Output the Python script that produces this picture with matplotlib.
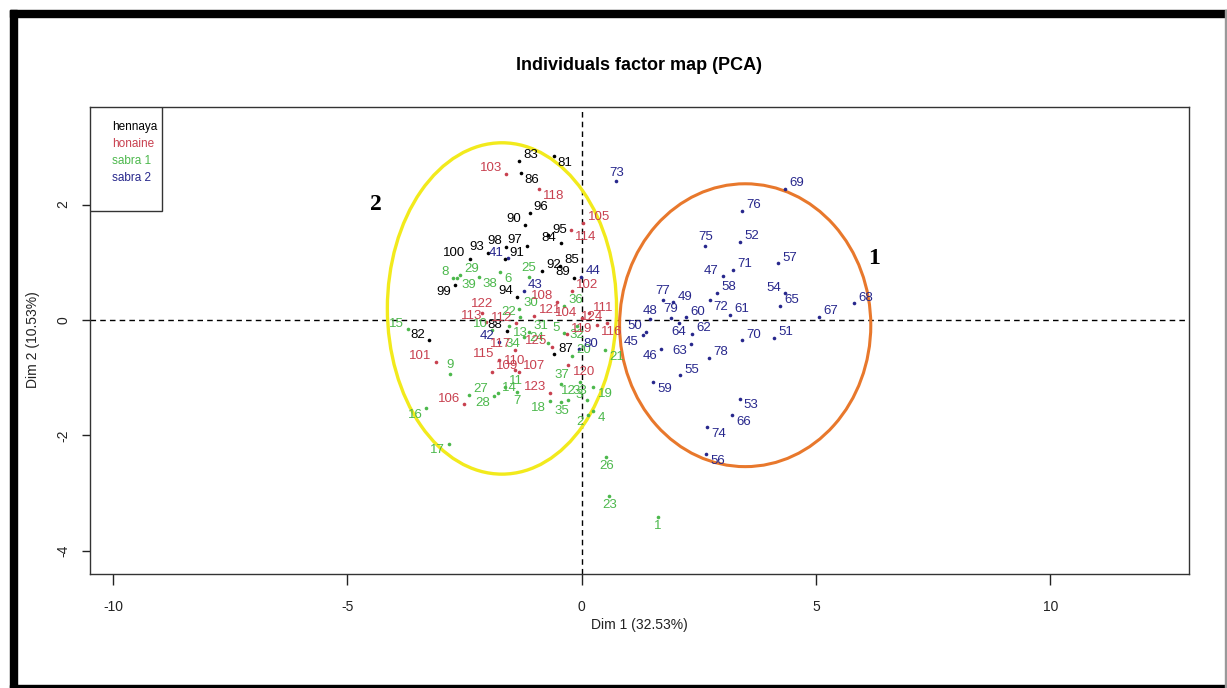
import matplotlib
matplotlib.use("Agg")
import matplotlib.pyplot as plt
from matplotlib.patches import Ellipse, Rectangle

plt.rcParams["font.family"] = ["Liberation Sans", "DejaVu Sans"]
plt.rcParams["axes.unicode_minus"] = False

# ── data: individuals on Dim 1 / Dim 2 ───────────────────────────────────────
ids = list(range(1, 40)) + list(range(41, 126))

dim1 = [1.62, 0.14, 0.11, 0.25, -0.37, -1.74, -1.38, -2.74, -2.81, -1.91,
        -1.63, -0.28, -1.55, -1.79, -3.71, -3.31, -2.82, -0.68, 0.25, -0.21,
        0.50, -1.32, 0.59, -0.71, -1.13, 0.53, -2.41, -1.87, -2.60, -1.34,
        -1.12, -0.10, -0.04, -1.23, -0.43, -0.37, -0.43, -2.20, -2.66,
        # 41-80
        -1.57, -1.77, -1.23, -0.01, 1.31, 1.70, 3.01, 1.45, 1.96, 1.38,
        4.10, 3.38, 3.37, 4.34, 2.10, 2.66, 4.20, 2.89, 1.53, 2.23,
        3.17, 2.36, 2.34, 2.07, 4.24, 3.21, 5.07, 5.81, 4.35, 3.43,
        3.23, 2.73, 0.74, 2.67, 2.64, 3.43, 1.74, 2.72, 1.91, -0.05,
        # 81-100
        -0.60, -3.26, -1.33, -0.45, -0.46, -1.30, -0.59, -1.60, -0.16, -1.21,
        -1.64, -0.84, -1.99, -1.38, -0.71, -1.11, -1.17, -1.61, -2.70, -2.39,
        # 101-125
        -3.11, -0.21, -1.61, 0.00, 0.04, -2.51, -1.34, -0.52, -1.91, -1.43,
        0.16, -1.40, -2.04, -0.23, -1.77, 0.32, -1.42, -0.92, -0.32, -0.28,
        -1.01, -2.13, -0.67, 0.55, -0.64]

dim2 = [-3.41, -1.65, -1.39, -1.57, -0.23, 0.83, -1.25, 0.73, -0.93, -0.17,
        -1.16, -1.39, -0.10, -1.27, -0.16, -1.53, -2.14, -1.40, -1.16, -0.62,
        -0.52, 0.05, -3.05, -0.40, 0.75, -2.38, -1.30, -1.32, 0.78, 0.19,
        -0.20, -0.10, -1.07, -0.29, -1.42, 0.25, -1.10, 0.74, 0.72,
        # 41-80
        1.07, -0.38, 0.51, 0.75, -0.26, -0.50, 0.76, 0.01, 0.31, -0.20,
        -0.31, 1.36, -1.36, 0.46, -0.96, -2.32, 0.98, 0.47, -1.08, 0.05,
        0.09, -0.24, -0.42, -0.05, 0.25, -1.65, 0.06, 0.29, 2.27, -0.35,
        0.87, 0.35, 2.40, -1.85, 1.29, 1.89, 0.35, -0.65, 0.03, -0.51,
        # 81-100
        2.84, -0.35, 2.76, 1.33, 0.94, 2.54, -0.59, -0.19, 0.73, 1.65,
        1.06, 0.85, 1.16, 0.40, 1.47, 1.86, 1.29, 1.27, 0.61, 1.06,
        # 101-125
        -0.72, 0.51, 2.53, 0.03, 1.68, -1.46, -0.90, 0.32, -0.90, -0.87,
        0.12, -0.06, -0.03, 1.56, -0.69, -0.09, -0.52, 2.27, -0.25, -0.78,
        0.07, 0.12, -1.26, -0.05, -0.46]

# where each label sits relative to its point
label_side = ["b", "ld", "l", "rd", "l", "rd", "b", "l", "a", "l",
              "r", "a", "rd", "r", "l", "ld", "ld", "ld", "rd", "r",
              "rd", "l", "b", "l", "a", "b", "r", "ld", "r", "r",
              "r", "b", "b", "ld", "b", "r", "a", "rd", "rd",
              "l", "l", "r", "r", "ld", "ld", "l", "a", "r", "l",
              "r", "r", "rd", "l", "r", "rd", "r", "r", "rd", "r",
              "r", "r", "ld", "b", "r", "rd", "r", "r", "r", "r",
              "r", "rd", "a", "rd", "a", "r", "a", "r", "a", "r",
              "rd", "l", "r", "l", "r", "rd", "r", "l", "l", "l",
              "r", "r", "l", "l", "r", "r", "l", "l", "ld", "l",
              "l", "r", "l", "l", "r", "l", "r", "l", "r", "a",
              "r", "l", "l", "rd", "l", "rd", "l", "rd", "r", "rd",
              "r", "a", "l", "l", "l"]

group_names = ["hennaya", "honaine", "sabra 1", "sabra 2"]
group_colors = ["black", "#c8404f", "#4cb84c", "#27278c"]


def group_of(i):
    if i <= 40:
        return 2
    if i <= 80:
        return 3
    if i <= 100:
        return 0
    return 1


SIDES = {
    "r":  ((3, 4), "left", "center"),
    "rd": ((3, -5), "left", "center"),
    "l":  ((-3, 4), "right", "center"),
    "ld": ((-3, -5), "right", "center"),
    "a":  ((0, 2), "center", "bottom"),
    "b":  ((0, -2), "center", "top"),
}

fig = plt.figure(figsize=(12.27, 6.88), dpi=100)
ax = fig.add_axes([90 / 1227, 114 / 688, 1099 / 1227, 467 / 688])

ax.axhline(0, color="black", lw=1, ls=(0, (4, 3)), zorder=1)
ax.axvline(0, color="black", lw=1, ls=(0, (4, 3)), zorder=1)

for i, x, y, side in zip(ids, dim1, dim2, label_side):
    col = group_colors[group_of(i)]
    ax.plot(x, y, "o", ms=2.6, color=col, mec="none", zorder=3)
    off, ha, va = SIDES[side]
    ax.annotate(str(i), (x, y), xytext=off, textcoords="offset points",
                ha=ha, va=va, fontsize=9.5, color=col, zorder=4)

# cluster ellipses
ax.add_patch(Ellipse((-1.70, 0.20), 4.89, 5.74, fill=False,
                     ec="#f2ea1c", lw=2.4, zorder=2))
ax.add_patch(Ellipse((3.49, -0.09), 5.36, 4.90, fill=False,
                     ec="#e8782c", lw=2.2, zorder=2))
ax.text(-4.40, 2.0, "2", family="Liberation Serif", fontweight="bold",
        fontsize=17, ha="center", va="center")
ax.text(6.23, 1.07, "1", family="Liberation Serif", fontweight="bold",
        fontsize=17, ha="center", va="center")

ax.set_xlim(-10.49, 12.96)
ax.set_ylim(-4.40, 3.69)
ax.set_xticks([-10, -5, 0, 5, 10])
ax.set_yticks([-4, -2, 0, 2])
ax.tick_params(axis="x", direction="out", length=8, width=1, pad=11,
               labelsize=10, colors="#222222")
ax.tick_params(axis="y", direction="out", length=6, width=1, pad=8,
               labelsize=10, colors="#222222")
for lbl in ax.get_yticklabels():
    lbl.set_rotation(90)
    lbl.set_va("center")
for sp in ax.spines.values():
    sp.set_color("#333333")
    sp.set_linewidth(1)

# legend box
ax.add_patch(Rectangle((0, 1 - 0.2227), 0.0655, 0.2227, transform=ax.transAxes,
                       fill=True, fc="white", ec="#333333", lw=1, zorder=5))
for k, (name, col) in enumerate(zip(group_names, group_colors)):
    ax.text(0.02, 1 - 0.043 - k * 0.036, name, transform=ax.transAxes,
            fontsize=8.5, color=col, va="center", ha="left", zorder=6)

fig.text(639.5 / 1227, 1 - 65 / 688, "Individuals factor map (PCA)",
         fontsize=13, fontweight="bold", ha="center", va="center")
fig.text(639.5 / 1227, 1 - 625 / 688, "Dim 1 (32.53%)",
         fontsize=10, ha="center", va="center", color="#222222")
fig.text(33 / 1227, 1 - 340 / 688, "Dim 2 (10.53%)", rotation=90,
         fontsize=10, ha="center", va="center", color="#222222")

# outer frame of the picture
fig.add_artist(Rectangle((10 / 1227, 1 - 17 / 688), 1217 / 1227, 7 / 688,
                         transform=fig.transFigure, color="black"))
fig.add_artist(Rectangle((10 / 1227, 0), 7 / 1227, 1 - 10 / 688,
                         transform=fig.transFigure, color="black"))
fig.add_artist(Rectangle((10 / 1227, 0), 1217 / 1227, 3 / 688,
                         transform=fig.transFigure, color="black"))
fig.add_artist(Rectangle((1225 / 1227, 0), 2 / 1227, 1 - 10 / 688,
                         transform=fig.transFigure, color="#999999"))

fig.savefig("out.png", dpi=100)
